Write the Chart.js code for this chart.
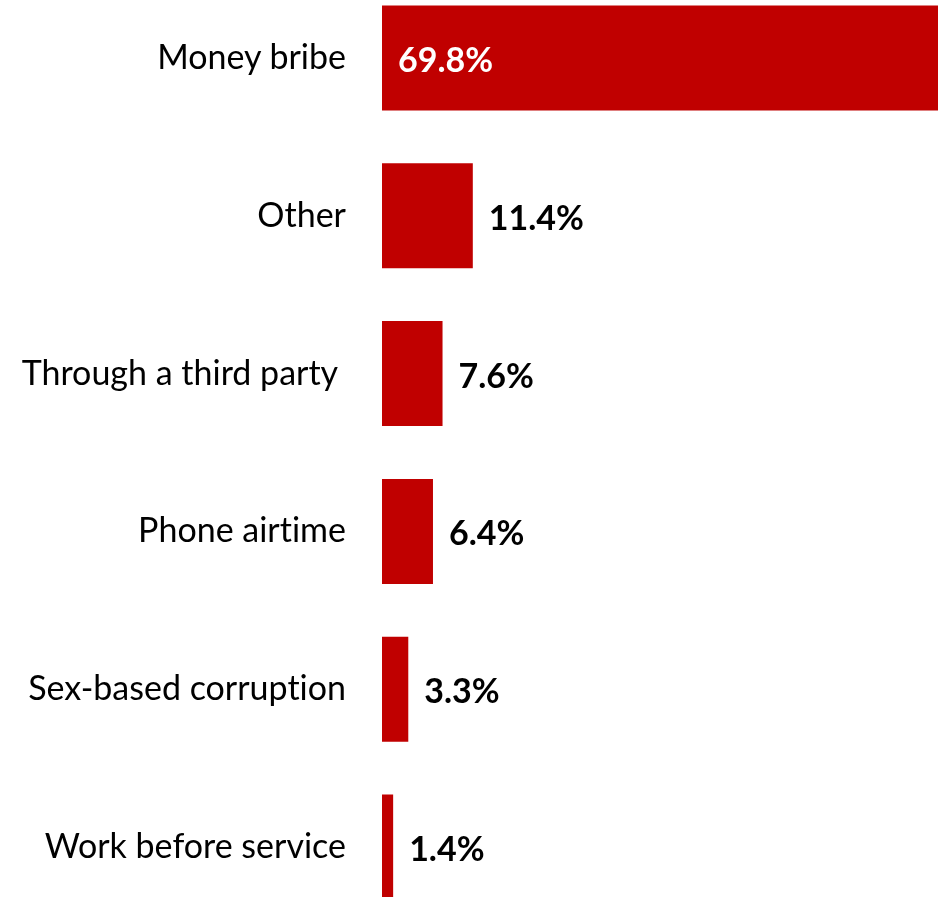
<!DOCTYPE html>
<html>
<head>
<meta charset="utf-8">
<script src="https://cdn.jsdelivr.net/npm/chart.js@4/dist/chart.umd.min.js"></script>
<style>
  html, body { margin: 0; padding: 0; background: #fff; overflow: hidden; width: 938px; height: 897px; }
  #c { position: absolute; left: 0; top: -21px; }
</style>
</head>
<body>
<canvas id="c" width="938" height="947" style="width:938px;height:947px"></canvas>
<script>
const categories = ["Money bribe", "Other", "Through a third party ", "Phone airtime", "Sex-based corruption", "Work before service"];
const shares = [69.8, 11.4, 7.6, 6.4, 3.3, 1.4];

const FONT = "Lato";

// Plain glyphs, no "ti" ligature
const plainText = {
  id: "plainText",
  beforeDraw(chart) {
    if ("textRendering" in chart.ctx) chart.ctx.textRendering = "optimizeLegibility";
    if ("fontVariantCaps" in chart.ctx) chart.ctx.fontVariantCaps = "normal";
    chart.canvas.style.fontVariantLigatures = "none";
  }
};

// Percent labels: inside the first (long) bar in white, after the bar end otherwise
const valueLabels = {
  id: "valueLabels",
  afterDatasetsDraw(chart) {
    const ctx = chart.ctx;
    const meta = chart.getDatasetMeta(0);
    ctx.save();
    ctx.font = "bold 34px '" + FONT + "'";
    ctx.textBaseline = "middle";
    ctx.textAlign = "left";
    meta.data.forEach((bar, i) => {
      const txt = shares[i].toFixed(1) + "%";
      if (i === 0) {
        ctx.fillStyle = "#ffffff";
        ctx.fillText(txt, bar.base + 16, bar.y + 3);
      } else {
        ctx.fillStyle = "#000000";
        ctx.fillText(txt, bar.x + 16, bar.y + 3);
      }
    });
    ctx.restore();
  }
};

new Chart(document.getElementById("c"), {
  type: "bar",
  data: {
    labels: categories,
    datasets: [{
      data: shares,
      backgroundColor: "#C00000",
      borderWidth: 0,
      categoryPercentage: 1,
      barPercentage: 0.665
    }]
  },
  options: {
    indexAxis: "y",
    responsive: false,
    animation: false,
    layout: { padding: 0 },
    plugins: { legend: { display: false }, tooltip: { enabled: false } },
    scales: {
      x: { display: false, min: 0, max: 69.8 },
      y: {
        grid: { display: false, drawTicks: false },
        border: { display: false },
        ticks: { color: "#000", padding: 36, font: { family: FONT, size: 34 } },
        afterFit(scale) {
          scale.width = 382;
          scale.paddingTop = 0;
          scale.paddingBottom = 0;
        }
      }
    }
  },
  plugins: [plainText, valueLabels]
});
</script>
</body>
</html>
